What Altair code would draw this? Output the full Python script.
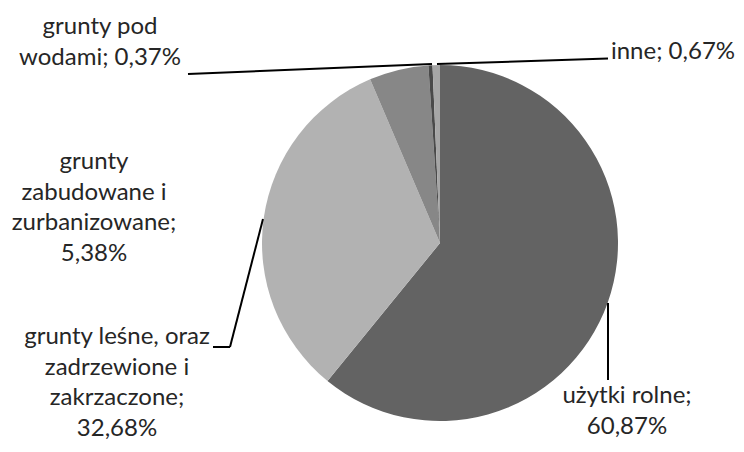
import textwrap
import altair as alt
import pandas as pd

# ---- data ----
categories = [
    "użytki rolne",
    "grunty leśne, oraz zadrzewione i zakrzaczone",
    "grunty zabudowane i zurbanizowane",
    "grunty pod wodami",
    "inne",
]
values = [60.87, 32.68, 5.38, 0.37, 0.67]

# ---- styles / layout ----
colors = ["#636363", "#b2b2b2", "#878787", "#4a4a4a", "#a6a6a6"]
wrap_widths = [14, 18, 14, 13, 20]
OFF = 8  # page margin
# label anchor (page pixels): centre x, first-line baseline y
label_pos = [(627, 403), (117, 344), (94, 169), (100, 34), (673, 59)]
# leader segments (page pixels)
leaders = [
    (608, 303, 608, 380),
    (213, 347, 230, 347),
    (230, 347, 263, 219),
    (188, 74, 432, 64),
    (437, 64, 608, 58.5),
]
CX, CY, R = 440, 243, 178
FONT = "Lato"
FS = 24
LH = 30.5
TEXT_COLOR = "#262626"

df = pd.DataFrame({"category": categories, "value": values, "idx": list(range(len(categories)))})


def fmt(v):
    return f"{v:.2f}".replace(".", ",") + "%"


labels = []
for cat, v, w, (px, py) in zip(categories, values, wrap_widths, label_pos):
    lines = textwrap.wrap(f"{cat}; {fmt(v)}", w)
    labels.append({"text": "\n".join(lines), "px": px - OFF, "py": py - OFF})
lab_df = pd.DataFrame(labels)

seg_df = pd.DataFrame(
    [{"x": a - OFF, "y": b - OFF, "x2": c - OFF, "y2": d - OFF} for a, b, c, d in leaders]
)

pie = (
    alt.Chart(df)
    .mark_arc(outerRadius=R, stroke=None)
    .encode(
        theta=alt.Theta("value:Q", stack=True),
        order=alt.Order("idx:Q"),
        color=alt.Color("category:N", scale=alt.Scale(domain=categories, range=colors), legend=None),
        x=alt.value(CX - OFF),
        y=alt.value(CY - OFF),
    )
)

rules = (
    alt.Chart(seg_df)
    .mark_rule(color="#000000", strokeWidth=2)
    .encode(
        x=alt.X("x:Q", scale=None, axis=None),
        y=alt.Y("y:Q", scale=None, axis=None),
        x2="x2:Q",
        y2="y2:Q",
    )
)

texts = (
    alt.Chart(lab_df)
    .mark_text(
        font=FONT,
        fontSize=FS,
        lineHeight=LH,
        lineBreak="\n",
        align="center",
        baseline="alphabetic",
        color=TEXT_COLOR,
    )
    .encode(
        x=alt.X("px:Q", scale=None, axis=None),
        y=alt.Y("py:Q", scale=None, axis=None),
        text="text:N",
    )
)

chart = (
    alt.layer(pie, rules, texts)
    .properties(width=728, height=432, padding=0, autosize=alt.AutoSizeParams(type="none"), background="white")
    .configure_view(stroke=None)
)

chart.save("out.html", embed_options={"renderer": "svg", "actions": False})
